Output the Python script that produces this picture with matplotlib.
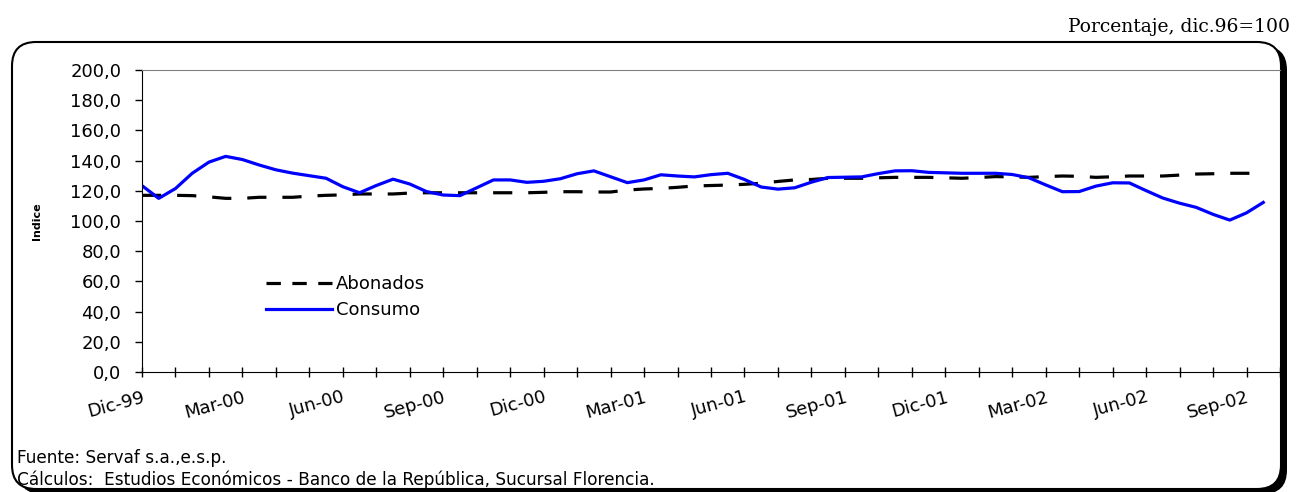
import numpy as np
import matplotlib.pyplot as plt
from matplotlib.lines import Line2D
from matplotlib.patches import FancyBboxPatch
from matplotlib.transforms import IdentityTransform

# half-month readings, Dic-99 .. Oct-02
consumo = [123.4, 115.0, 121.5, 131.6, 139.0, 142.8, 140.7, 137.1, 133.9, 131.7,
           130.0, 128.3, 122.7, 118.7, 123.5, 127.7, 124.5, 119.5, 117.2, 116.8,
           122.0, 127.2, 127.2, 125.6, 126.3, 128.0, 131.3, 133.2, 129.3, 125.4,
           127.2, 130.6, 129.8, 129.2, 130.7, 131.6, 127.5, 122.5, 121.1, 122.0,
           125.7, 128.8, 129.0, 129.2, 131.4, 133.2, 133.3, 132.2, 131.9, 131.6,
           131.6, 131.6, 130.8, 128.6, 123.9, 119.4, 119.5, 123.1, 125.3, 125.2,
           120.1, 115.2, 111.8, 109.0, 104.4, 100.6, 105.4, 112.3]
abonados = [117.0, 117.0, 117.0, 116.8, 116.0, 115.0, 115.0, 115.7, 115.7, 115.7,
            116.5, 117.0, 117.3, 117.9, 117.9, 117.9, 118.5, 118.7, 118.7, 118.7,
            118.7, 118.7, 118.7, 118.7, 119.0, 119.4, 119.4, 119.2, 119.2, 120.5,
            121.2, 121.6, 122.3, 123.2, 123.5, 123.8, 124.3, 125.0, 126.2, 127.2,
            127.5, 128.3, 128.3, 128.3, 128.6, 128.9, 128.9, 128.9, 128.6, 128.3,
            128.8, 129.4, 129.2, 128.9, 129.4, 129.8, 129.6, 128.9, 129.3, 129.8,
            129.8, 129.8, 130.4, 131.1, 131.3, 131.6, 131.6, 131.6]
meses = ['Dic-99', 'Mar-00', 'Jun-00', 'Sep-00', 'Dic-00', 'Mar-01',
         'Jun-01', 'Sep-01', 'Dic-01', 'Mar-02', 'Jun-02', 'Sep-02']

x = np.arange(len(consumo))

plt.rcParams['font.family'] = ['DejaVu Sans']
fig = plt.figure(figsize=(12.97, 4.92), dpi=100)

# rounded frame with shadow (pixel coords)
shadow = FancyBboxPatch((18, -2), 1269, 448, boxstyle="round,pad=0,rounding_size=24",
                        transform=IdentityTransform(), fc='black', ec='none', zorder=-2)
frame = FancyBboxPatch((12, 3), 1269, 447, boxstyle="round,pad=0,rounding_size=24",
                       transform=IdentityTransform(), fc='white', ec='black', lw=1.5, zorder=-1)
fig.add_artist(shadow)
fig.add_artist(frame)

ax = fig.add_axes([142 / 1297, 120 / 492, 1138 / 1297, 302 / 492])
ax.set_facecolor('none')

ax.plot(x, abonados, color='black', lw=2.3, dashes=(6, 5))
ax.plot(x, consumo, color='#0000FF', lw=2.3)

ax.set_xlim(0, 68)
ax.set_ylim(0, 200)
ax.set_yticks(np.arange(0, 201, 20))
ax.set_yticklabels([f"{v:.1f}".replace('.', ',') for v in range(0, 201, 20)], fontsize=13)
ax.set_xticks(np.arange(0, 67, 6))
ax.set_xticks(np.arange(0, 69, 2), minor=True)
ax.set_xticklabels(meses, fontsize=13, rotation=15, ha='right', rotation_mode='anchor')
ax.tick_params(axis='x', which='both', direction='inout', length=7, width=1, pad=8)
ax.tick_params(axis='y', direction='out', length=5, width=1, pad=10)

ax.spines['right'].set_visible(False)
ax.spines['top'].set_color('#808080')
ax.set_ylabel('Indice', fontsize=8, fontweight='bold', labelpad=20)

handles = [Line2D([], [], color='black', lw=2.3, dashes=(4.5, 3.6)),
           Line2D([], [], color='#0000FF', lw=2.3)]
ax.legend(handles, ['Abonados', 'Consumo'], loc='upper left',
          bbox_to_anchor=(0.095, 0.375), frameon=False,
          fontsize=13, handlelength=3.66, handletextpad=0.2, labelspacing=0.45)

fig.text(1290 / 1297, 1 - 27 / 492, 'Porcentaje, dic.96=100', family='DejaVu Serif',
         fontsize=13.5, ha='right', va='center')
fig.text(17 / 1297, 1 - 458 / 492, 'Fuente: Servaf s.a.,e.s.p.', fontsize=12.2, va='center')
fig.text(17 / 1297, 1 - 480 / 492,
         'Cálculos:  Estudios Económicos - Banco de la República, Sucursal Florencia.',
         fontsize=12.2, va='center')

fig.savefig('out.png', dpi=100)
